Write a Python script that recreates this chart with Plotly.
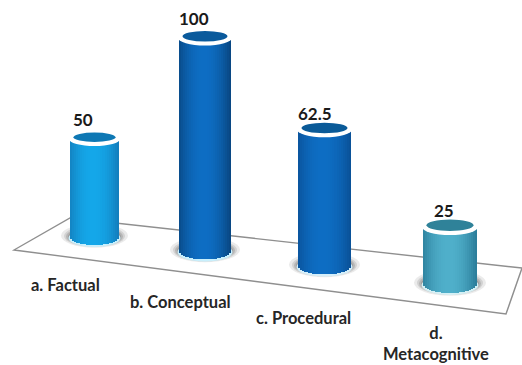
import numpy as np
import plotly.graph_objects as go

categories = ["a. Factual", "b. Conceptual", "c. Procedural", "d.<br>Metacognitive"]
values = [50, 100, 62.5, 25]

# style / layout (pixel-like axis units)
W, H = 522, 365
centers = [94.5, 205, 324.5, 450]
radii = [24.5, 26, 26.5, 27]
rys = [8, 8.5, 8.5, 9]
floors = [237, 251, 266, 284]          # pixel row of base-ellipse centre
scales = [1.96, 2.13, 2.18, 2.28]      # perspective px per value unit
edge = ["#137fbe", "#094884", "#0a5299", "#2c7f9c"]
mid = ["#15a8ea", "#0e6ec4", "#0e6ec4", "#50b0cb"]
capc = ["#0e78b4", "#0a5a9c", "#0a5a98", "#2f8299"]
rimc = ["#c8effc", "#c8effc", "#d5effa", "#d5f0f5"]
label_pos = [(65, 285), (180, 302), (303, 318), (436, 343)]
value_pos = [(83, 119), (194, 18), (315, 113), (444, 210)]


def Y(p):
    return H - p


def hex2rgb(c):
    return np.array([int(c[i:i + 2], 16) for i in (1, 3, 5)], float)


fig = go.Figure()
shapes = []
# floor plane
shapes.append(dict(type="path", layer="below",
                   path=f"M14,{Y(250)} L70,{Y(218)} L522,{Y(268)} L506,{Y(314)} Z",
                   line=dict(color="#8f8f8f", width=1.4), fillcolor="white"))

for i, v in enumerate(values):
    cx, rx, ry, fl, s = centers[i], radii[i], rys[i], floors[i], scales[i]
    # soft shadow on the floor
    for k, op in zip((9, 6, 4, 2), (0.14, 0.20, 0.28, 0.38)):
        shapes.append(dict(type="circle", layer="below",
                           x0=cx - rx - k, x1=cx + rx + k,
                           y0=Y(fl + ry + k * 0.3), y1=Y(fl - ry - k * 0.6),
                           line=dict(width=0), fillcolor=f"rgba(110,110,110,{op})"))
    # rim under the base
    shapes.append(dict(type="circle", layer="below",
                       x0=cx - rx - 1.5, x1=cx + rx + 1.5,
                       y0=Y(fl + ry + 2), y1=Y(fl - ry),
                       line=dict(width=0), fillcolor=rimc[i]))
    # cylinder body: vertical shaded strips through the bar trace
    n = int(rx)
    w = 2 * rx / n
    xs = cx - rx + w * (np.arange(n) + 0.5)
    u = (xs - cx) / rx
    ybase = fl + ry * np.sqrt(np.clip(1 - u ** 2, 0, 1))
    topp = fl - v * s
    mix = np.clip(1 - np.abs(u + 0.05) ** 2.0, 0, 1)
    a, b = hex2rgb(edge[i]), hex2rgb(mid[i])
    cols = [f"rgb({int(c[0])},{int(c[1])},{int(c[2])})" for c in (a + (b - a) * m for m in mix)]
    fig.add_bar(x=xs, base=Y(ybase), y=ybase - topp, width=w + 0.4,
                marker=dict(color=cols, line=dict(width=0)),
                hoverinfo="skip", showlegend=False, name=categories[i])
    # top cap: white rim with dark inner ellipse
    shapes.append(dict(type="circle", layer="above",
                       x0=cx - rx - 1, x1=cx + rx + 1,
                       y0=Y(topp + ry - 1), y1=Y(topp - ry + 1),
                       line=dict(width=0), fillcolor="white"))
    shapes.append(dict(type="circle", layer="above",
                       x0=cx - rx + 3.5, x1=cx + rx - 3.5,
                       y0=Y(topp + ry - 5), y1=Y(topp - ry + 1.5),
                       line=dict(width=0), fillcolor=capc[i]))

annotations = []
for i, v in enumerate(values):
    annotations.append(dict(x=value_pos[i][0], y=Y(value_pos[i][1]), text=f"<b>{v:g}</b>",
                            showarrow=False, xref="x", yref="y",
                            font=dict(family="Lato", size=17, color="#1a1a1a")))
    annotations.append(dict(x=label_pos[i][0], y=Y(label_pos[i][1]), text=f"<b>{categories[i]}</b>",
                            showarrow=False, xref="x", yref="y",
                            font=dict(family="Lato", size=16.5, color="#262626")))

fig.update_layout(width=W, height=H, margin=dict(l=0, r=0, t=0, b=0),
                  paper_bgcolor="white", plot_bgcolor="white",
                  barmode="overlay", bargap=0, showlegend=False,
                  shapes=shapes, annotations=annotations,
                  xaxis=dict(range=[0, W], visible=False, fixedrange=True),
                  yaxis=dict(range=[0, H], visible=False, fixedrange=True))
fig.write_html("out.html", config=dict(displayModeBar=False),
               post_script="document.body.style.margin='0';document.body.style.overflow='hidden';")
